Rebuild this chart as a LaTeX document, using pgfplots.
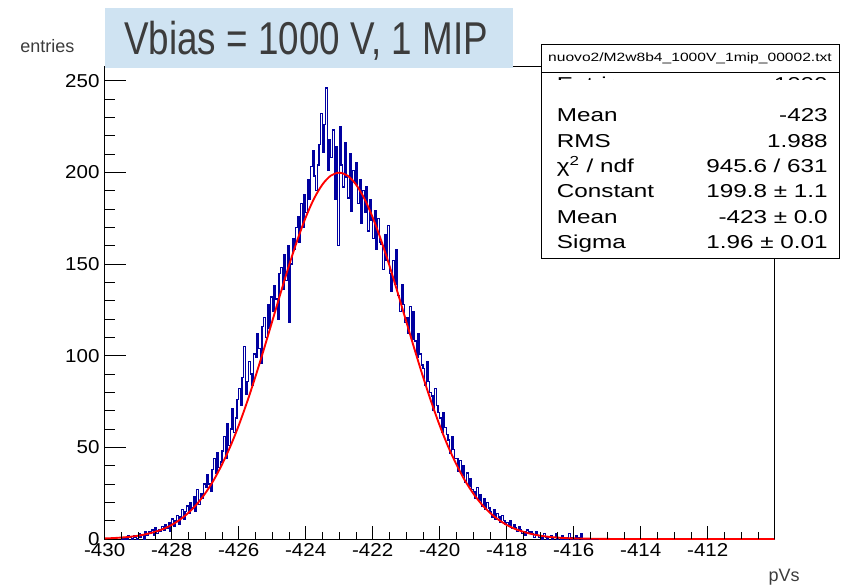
\documentclass[border=0pt]{standalone}
\usepackage{fontspec}
\setmainfont[FakeStretch=1.1]{Liberation Sans}
\newfontfamily\statfont[FakeStretch=1.3]{Liberation Sans}
\newfontfamily\titlefont[FakeStretch=0.8]{Liberation Sans}
\newfontfamily\plainfont{Liberation Sans}
\usepackage{pgfplots}
\pgfplotsset{compat=1.18}

\definecolor{histblue}{RGB}{0,0,160}
\definecolor{fitred}{RGB}{255,0,0}
\definecolor{titlebg}{RGB}{207,227,242}
\definecolor{titlegray}{RGB}{60,60,60}

\pgfplotsset{
  rootframe/.style={
    at={(78.525pt,-404.25pt)}, anchor=south west,
    width=502.5pt, height=354.75pt, scale only axis,
    xmin=-430, xmax=-410, ymin=0, ymax=258,
    tick align=inside,
    tick style={black, line width=0.6pt},
    ticklabel style={font=\fontsize{14}{16}\selectfont},
  }
}

\begin{document}
\begin{tikzpicture}
\begin{scope}[x=0.75pt,y=-0.75pt]
  \useasboundingbox (0,0) rectangle (848,584);
\end{scope}

% main frame: histogram, fit, y ticks
\begin{axis}[
    rootframe,
    axis line style={black, line width=0.6pt},
    xtick=\empty,
    ytick={0,50,100,150,200,250},
    yticklabels={0,50,100,150,200,250},
    minor y tick num=4,
    ytick pos=left,
    major tick length=15.75pt, minor tick length=7.5pt,
    yticklabel style={anchor=east, inner sep=0pt, xshift=-3.75pt},
]
\addplot[const plot mark left, color=histblue, line width=1pt] coordinates {
(-429.50,0) (-429.45,1) (-429.40,0) (-429.35,0) (-429.30,2)
(-429.25,1) (-429.20,0) (-429.15,2) (-429.10,1) (-429.05,0)
(-429.00,3) (-428.95,1) (-428.90,2) (-428.85,0) (-428.80,4)
(-428.75,2) (-428.70,4) (-428.65,3) (-428.60,5) (-428.55,2)
(-428.50,6) (-428.45,3) (-428.40,5) (-428.35,4) (-428.30,7)
(-428.25,5) (-428.20,8) (-428.15,6) (-428.10,9) (-428.05,4)
(-428.00,11) (-427.95,7) (-427.90,10) (-427.85,13) (-427.80,8)
(-427.75,12) (-427.70,16) (-427.65,11) (-427.60,15) (-427.55,18)
(-427.50,14) (-427.45,20) (-427.40,17) (-427.35,23) (-427.30,15)
(-427.25,27) (-427.20,19) (-427.15,25) (-427.10,22) (-427.05,30)
(-427.00,28) (-426.95,35) (-426.90,30) (-426.85,26) (-426.80,38)
(-426.75,44) (-426.70,36) (-426.65,47) (-426.60,39) (-426.55,42)
(-426.50,48) (-426.45,56) (-426.40,44) (-426.35,63) (-426.30,51)
(-426.25,60) (-426.20,71) (-426.15,58) (-426.10,66) (-426.05,76)
(-426.00,82) (-425.95,73) (-425.90,88) (-425.85,105) (-425.80,79)
(-425.75,86) (-425.70,97) (-425.65,90) (-425.60,84) (-425.55,101)
(-425.50,99) (-425.45,112) (-425.40,104) (-425.35,96) (-425.30,116)
(-425.25,121) (-425.20,110) (-425.15,128) (-425.10,115) (-425.05,132)
(-425.00,124) (-424.95,138) (-424.90,131) (-424.85,120) (-424.80,145)
(-424.75,148) (-424.70,136) (-424.65,155) (-424.60,141) (-424.55,160)
(-424.50,118) (-424.45,150) (-424.40,164) (-424.35,158) (-424.30,170)
(-424.25,176) (-424.20,162) (-424.15,183) (-424.10,170) (-424.05,188)
(-424.00,178) (-423.95,196) (-423.90,185) (-423.85,203) (-423.80,212)
(-423.75,198) (-423.70,190) (-423.65,204) (-423.60,215) (-423.55,232)
(-423.50,211) (-423.45,226) (-423.40,246) (-423.35,201) (-423.30,218)
(-423.25,208) (-423.20,223) (-423.15,185) (-423.10,214) (-423.05,160)
(-423.00,225) (-422.95,204) (-422.90,192) (-422.85,216) (-422.80,197)
(-422.75,186) (-422.70,210) (-422.65,179) (-422.60,201) (-422.55,194)
(-422.50,205) (-422.45,183) (-422.40,196) (-422.35,172) (-422.30,190)
(-422.25,178) (-422.20,192) (-422.15,168) (-422.10,185) (-422.05,174)
(-422.00,164) (-421.95,179) (-421.90,158) (-421.85,175) (-421.80,162)
(-421.75,161) (-421.70,147) (-421.65,166) (-421.60,152) (-421.55,171)
(-421.50,145) (-421.45,135) (-421.40,152) (-421.35,139) (-421.30,158)
(-421.25,133) (-421.20,124) (-421.15,139) (-421.10,128) (-421.05,118)
(-421.00,121) (-420.95,112) (-420.90,127) (-420.85,109) (-420.80,124)
(-420.75,108) (-420.70,99) (-420.65,112) (-420.60,101) (-420.55,95)
(-420.50,93) (-420.45,84) (-420.40,97) (-420.35,86) (-420.30,80)
(-420.25,78) (-420.20,70) (-420.15,82) (-420.10,73) (-420.05,69)
(-420.00,66) (-419.95,58) (-419.90,69) (-419.85,61) (-419.80,57)
(-419.75,54) (-419.70,47) (-419.65,56) (-419.60,49) (-419.55,44)
(-419.50,44) (-419.45,37) (-419.40,43) (-419.35,35) (-419.30,40)
(-419.25,31) (-419.20,36) (-419.15,29) (-419.10,33) (-419.05,27)
(-419.00,26) (-418.95,22) (-418.90,28) (-418.85,21) (-418.80,24)
(-418.75,18) (-418.70,22) (-418.65,16) (-418.60,20) (-418.55,17)
(-418.50,15) (-418.45,12) (-418.40,16) (-418.35,11) (-418.30,14)
(-418.25,12) (-418.20,9) (-418.15,13) (-418.10,10) (-418.05,8)
(-418.00,9) (-417.95,7) (-417.90,10) (-417.85,6) (-417.80,8)
(-417.75,6) (-417.70,4) (-417.65,7) (-417.60,5) (-417.55,3)
(-417.50,4) (-417.45,2) (-417.40,5) (-417.35,3) (-417.30,4)
(-417.25,3) (-417.20,1) (-417.15,4) (-417.10,2) (-417.05,1)
(-417.00,2) (-416.95,0) (-416.90,3) (-416.85,1) (-416.80,0)
(-416.75,1) (-416.70,2) (-416.65,0) (-416.60,1) (-416.55,3)
(-416.50,0) (-416.45,1) (-416.40,0) (-416.35,2) (-416.30,0)
(-416.25,1) (-416.20,0) (-416.15,3) (-416.10,0) (-416.05,1)
(-416.00,0) (-415.95,2) (-415.90,0) (-415.85,1) (-415.80,3)
(-415.75,0) (-410.00,0)
};
\addplot[smooth, color=fitred, line width=1.4pt] coordinates {
(-430,0.33) (-429.75,0.5) (-429.5,0.8) (-429.25,1.2) (-429,1.8)
(-428.75,2.7) (-428.5,3.9) (-428.25,5.5) (-428,7.7) (-427.75,10.6)
(-427.5,14.3) (-427.25,19.0) (-427,24.9) (-426.75,32.0) (-426.5,40.6)
(-426.25,50.5) (-426,61.9) (-425.75,74.7) (-425.5,88.6) (-425.25,103.4)
(-425,118.7) (-424.75,134.1) (-424.5,149.1) (-424.25,163.0) (-424,175.4)
(-423.75,185.7) (-423.5,193.4) (-423.25,198.2) (-423,199.8) (-422.75,198.2)
(-422.5,193.4) (-422.25,185.7) (-422,175.4) (-421.75,163.0) (-421.5,149.1)
(-421.25,134.1) (-421,118.7) (-420.75,103.4) (-420.5,88.6) (-420.25,74.7)
(-420,61.9) (-419.75,50.5) (-419.5,40.6) (-419.25,32.0) (-419,24.9)
(-418.75,19.0) (-418.5,14.3) (-418.25,10.6) (-418,7.7) (-417.75,5.5)
(-417.5,3.9) (-417.25,2.7) (-417,1.8) (-416.75,1.2) (-416.5,0.8)
(-416.25,0.5) (-416,0.33) (-415,0.05) (-414,0) (-410,0)
};
\end{axis}

% x ticks (shorter, as in the ROOT canvas)
\begin{axis}[
    rootframe,
    axis line style={draw=none},
    ytick=\empty,
    xtick={-430,-428,-426,-424,-422,-420,-418,-416,-414,-412,-410},
    xticklabels={-430,-428,-426,-424,-422,-420,-418,-416,-414,-412,{}},
    minor x tick num=3,
    xtick pos=left,
    major tick length=9.75pt, minor tick length=5.25pt,
    xticklabel style={anchor=north, inner sep=0pt, yshift=-3pt},
]
\end{axis}

\begin{scope}[x=0.75pt,y=-0.75pt]
  % title box
  \fill[titlebg] (105,8) rectangle (513,68);
  \node[anchor=base west, inner sep=0pt, text=titlegray,
        font=\titlefont\fontsize{34.5}{36}\selectfont] at (124,55) {Vbias = 1000 V, 1 MIP};
  % axis titles
  \node[anchor=base west, inner sep=0pt, text=titlegray,
        font=\plainfont\fontsize{13.5}{15}\selectfont] at (20,53) {entries};
  \node[anchor=base east, inner sep=0pt, text=titlegray,
        font=\plainfont\fontsize{13.5}{15}\selectfont] at (800,581) {pVs};
  % stats box
  \filldraw[fill=white, draw=black, line width=0.75pt] (541.7,45) rectangle (839,258);
  \draw[black, line width=0.75pt] (541.7,72.3) -- (839,72.3);
  \node[inner sep=0pt, font=\statfont\fontsize{9}{10}\selectfont] at (690,58.5)
    {nuovo2/M2w8b4\_1000V\_1mip\_00002.txt};
  \begin{scope}
    \clip (545,76.3) rectangle (834,79.5);
    \node[anchor=north west, inner sep=0pt, font=\statfont\fontsize{14}{16}\selectfont] at (556.7,76.8) {Entries};
    \node[anchor=north east, inner sep=0pt, font=\statfont\fontsize{14}{16}\selectfont] at (828,76.8) {1000};
  \end{scope}
  \begin{scope}[every node/.style={inner sep=0pt, font=\statfont\fontsize{14}{16}\selectfont}]
    \node[anchor=base west] at (556.7,121.7) {Mean};
    \node[anchor=base east] at (828,121.7) {-423};
    \node[anchor=base west] at (556.7,147.1) {RMS};
    \node[anchor=base east] at (828,147.1) {1.988};
    \node[anchor=base west] at (556.7,172.5) {χ\textsuperscript{2} / ndf};
    \node[anchor=base east] at (828,172.5) {945.6 / 631};
    \node[anchor=base west] at (556.7,197.9) {Constant};
    \node[anchor=base east] at (828,197.9) {199.8 ± 1.1};
    \node[anchor=base west] at (556.7,223.3) {Mean};
    \node[anchor=base east] at (828,223.3) {-423 ± 0.0};
    \node[anchor=base west] at (556.7,248.7) {Sigma};
    \node[anchor=base east] at (828,248.7) {1.96 ± 0.01};
  \end{scope}
\end{scope}
\end{tikzpicture}
\end{document}
